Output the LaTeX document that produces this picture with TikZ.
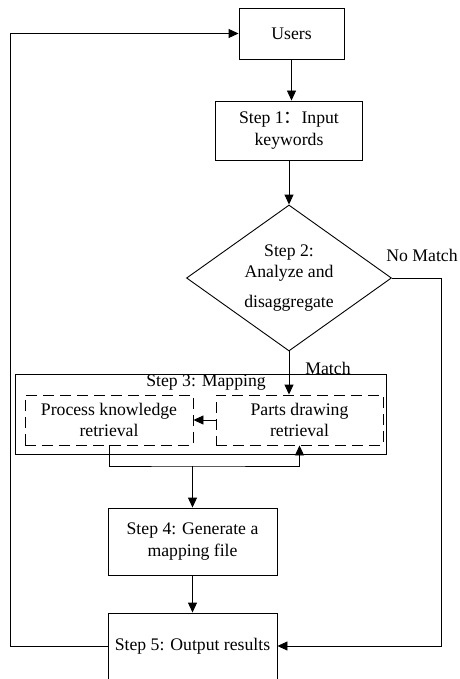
\documentclass[tikz,border=0pt]{standalone}
\usepackage{fontspec}
\setmainfont{Liberation Serif}
\newfontfamily\cjk{Noto Sans CJK SC}
\usetikzlibrary{shapes.geometric,arrows.meta}

\begin{document}
\begin{tikzpicture}[x=1pt,y=-1pt,line width=0.9pt,
	font=\fontsize{17.7}{21.5}\selectfont,
	box/.style={draw,rectangle,align=center,inner sep=0pt},
	dbox/.style={box,dash pattern=on 11pt off 6pt},
	arr/.style={-{Triangle[length=10pt,width=9pt]}}]
	\useasboundingbox (0,0) rectangle (459,679);
	\clip (-1,-1) rectangle (460,678.3);
	\node[box,minimum width=105pt,minimum height=51pt] (users) at (291.5,33.5) {Users};
	\node[box,minimum width=147pt,minimum height=59pt] (step1) at (289,130.5) {Step 1{\cjk ：}Input\\keywords};
	\node[draw,diamond,aspect=1.4,minimum width=205pt,minimum height=146pt,inner sep=0pt,align=center] (step2) at (289,278) {Step 2:\\Analyze and\\[8pt]disaggregate};
	\node[box,minimum width=371pt,minimum height=80pt] (step3) at (200.5,414) {};
	\node (step3 title) at (206,383) {Step 3: Mapping};
	\node[dbox,minimum width=168pt,minimum height=50pt] (pk) at (109,420) {Process knowledge\\retrieval};
	\node[dbox,minimum width=167pt,minimum height=50pt] (pd) at (299.5,420) {Parts drawing\\retrieval};
	\node[box,minimum width=169pt,minimum height=67pt] (step4) at (192.5,541.5) {Step 4: Generate a\\mapping file};
	\node[box,minimum width=169pt,minimum height=66pt] (step5) at (192.5,646) {Step 5: Output results};
	\node (nomatch label) at (422,255) {No Match};
	\node (match label) at (328,368) {Match};
	\coordinate (nomatch) at (441,278);
	\coordinate (back) at (10,646);
	\coordinate (join) at (192.5,466);
	% main flow
	\draw[arr] (users.south) -- (users.south |- step1.north);
	\draw[arr] (step1.south) -- (step2.north);
	\draw[arr] (step2.south) -- (step2.south |- pd.north);
	\draw[arr] (pd.west) -- (pk.east);
	\draw[arr] (pk.south) |- (join) -| (pd.south);
	\draw[arr] (join) -- (step4.north);
	\draw[arr] (step4.south) -- (step5.north);
	% side branches
	\draw[arr] (step2.east) -- (nomatch) |- (step5.east);
	\draw[arr] (step5.west) -- (back) |- (users.west);
\end{tikzpicture}
\end{document}
